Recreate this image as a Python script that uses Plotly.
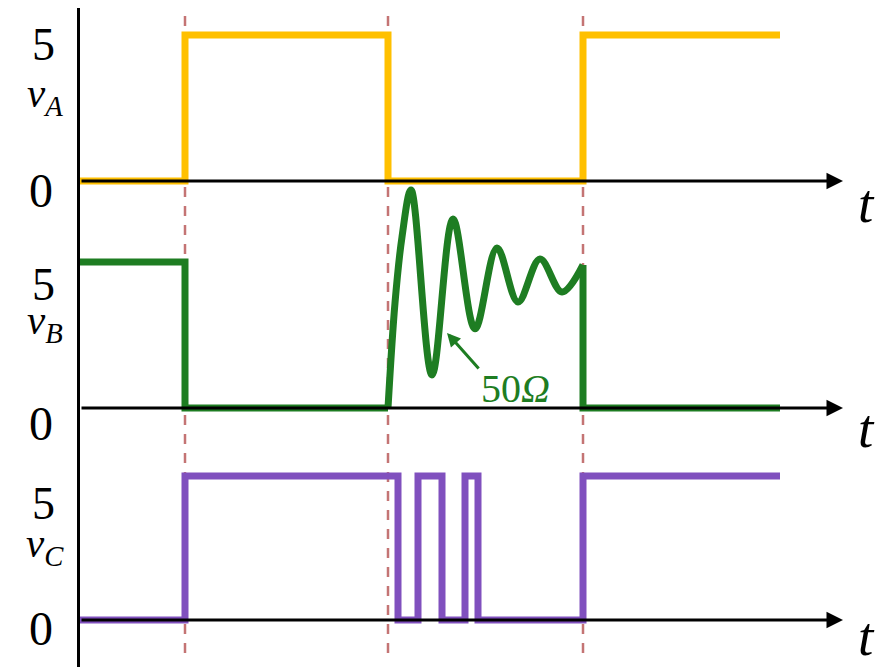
import plotly.graph_objects as go

# ---------------- data (time in arbitrary units, voltage in V) ----------------
t_marks = [1.05, 3.08, 5.03]          # dashed reference instants
t_axis_end = 7.63                     # arrow tip of the time axes

vA_t = [0, 1.05, 1.05, 3.08, 3.08, 5.03, 5.03, 7.0]
vA_v = [0, 0, 5, 5, 0, 0, 5, 5]

vB_step1_t = [0, 1.05, 1.05, 3.08]
vB_step1_v = [5, 5, 0, 0]
vB_ring_t = [3.08, 3.15, 3.22, 3.31, 3.52, 3.73, 3.95, 4.17, 4.38, 4.60, 4.82, 5.03]
vB_ring_v = [0, 3.6, 5.86, 7.47, 1.13, 6.47, 2.71, 5.48, 3.63, 5.10, 3.97, 4.9]
vB_step2_t = [5.03, 5.03, 7.0]
vB_step2_v = [4.9, 0, 0]

vC_t = [0, 1.05, 1.05, 3.18, 3.18, 3.38, 3.38, 3.62, 3.62, 3.85, 3.85, 3.98, 3.98, 5.03, 5.03, 7.0]
vC_v = [0, 0, 5, 5, 0, 0, 5, 5, 0, 0, 5, 5, 0, 0, 5, 5]

level_ticks = ["0", "5"]
channel_names = ["A", "B", "C"]
note_text = "50<i>Ω</i>"

# ---------------- styling / layout ----------------
W, H = 889, 667
ML, MT = 80, 8
PW, PH = W - ML, H - MT
XSCALE = 100.0  # px per time unit

YELLOW = "#FFC000"
GREEN = "#1E7D22"
PURPLE = "#8050BE"
DASH = "#C47474"
SERIF = "Liberation Serif, Times New Roman, serif"


def yrange(px0, px5):
    s = (px0 - px5) / 5.0
    return [-(H - px0) / s, 5 + (px5 - MT) / s]


def paper_y(py):
    return (H - py) / PH


def paper_x(px):
    return (px - ML) / PW


def data_x(px):
    return (px - ML) / XSCALE


fig = go.Figure()
lw = 7
fig.add_trace(go.Scatter(x=vA_t, y=vA_v, mode="lines", line=dict(color=YELLOW, width=lw), yaxis="y"))
fig.add_trace(go.Scatter(x=vB_step1_t, y=vB_step1_v, mode="lines", line=dict(color=GREEN, width=lw), yaxis="y2"))
fig.add_trace(go.Scatter(x=vB_ring_t, y=vB_ring_v, mode="lines",
                         line=dict(color=GREEN, width=lw, shape="spline", smoothing=1.0), yaxis="y2"))
fig.add_trace(go.Scatter(x=vB_step2_t, y=vB_step2_v, mode="lines", line=dict(color=GREEN, width=lw), yaxis="y2"))
fig.add_trace(go.Scatter(x=vC_t, y=vC_v, mode="lines", line=dict(color=PURPLE, width=lw), yaxis="y3"))

# dashed reference lines
for tm in t_marks:
    fig.add_shape(type="line", xref="x", yref="paper", x0=tm, x1=tm,
                  y0=paper_y(653), y1=paper_y(13), layer="below",
                  line=dict(color=DASH, width=2.5, dash="10px,9px"))

annotations = []
yrefs = ["y", "y2", "y3"]
# time axes with arrows
for yr in yrefs:
    annotations.append(dict(x=t_axis_end, y=0, xref="x", yref=yr, ax=0, ay=0, axref="x", ayref=yr,
                            text="", showarrow=True, arrowhead=2, arrowsize=1.1, arrowwidth=3,
                            arrowcolor="black", standoff=0, startstandoff=0))


def label(px, py, text, size, color="black"):
    return dict(x=paper_x(px), y=paper_y(py), xref="paper", yref="paper", text=text,
                xanchor="center", yanchor="middle", showarrow=False,
                font=dict(family=SERIF, size=size, color=color))


# t labels
for py in [203, 428, 636]:
    annotations.append(label(866, py, "<i>t</i>", 55))

# level labels and channel names
lvl_pos = [  # (py of "5", py of name, py of "0")
    (44, 96, 190),
    (284, 323, 423),
    (503, 546, 628),
]
for name, (p5, pn, p0) in zip(channel_names, lvl_pos):
    annotations.append(label(43, p5, level_ticks[1], 46))
    annotations.append(label(41, p0, level_ticks[0], 48))
    annotations.append(label(45, pn, f"<i>v</i><sub><i>{name}</i></sub>", 41))

# 50 ohm note with arrow
annotations.append(label(515, 388, note_text, 40, GREEN))
annotations.append(dict(x=data_x(447), y=paper_y(333), xref="x", yref="paper",
                        ax=33, ay=37, axref="pixel", ayref="pixel",
                        text="", showarrow=True, arrowhead=2, arrowsize=0.9, arrowwidth=3,
                        arrowcolor=GREEN, standoff=0, startstandoff=0))

fig.update_layout(
    width=W, height=H,
    margin=dict(l=ML, r=0, t=MT, b=0),
    paper_bgcolor="white", plot_bgcolor="white",
    showlegend=False,
    xaxis=dict(range=[0, PW / XSCALE], showgrid=False, zeroline=False, showticklabels=False,
               ticks="", showline=False, fixedrange=True),
    yaxis=dict(range=yrange(181, 35), showgrid=False, zeroline=False, showticklabels=False,
               ticks="", showline=True, linewidth=3, linecolor="black"),
    yaxis2=dict(range=yrange(408, 262), overlaying="y", visible=False),
    yaxis3=dict(range=yrange(620, 476), overlaying="y", visible=False),
    annotations=annotations,
)

fig.write_html("out.html", config={"displayModeBar": False},
               post_script="document.body.style.margin='0px';document.body.style.overflow='hidden';")
